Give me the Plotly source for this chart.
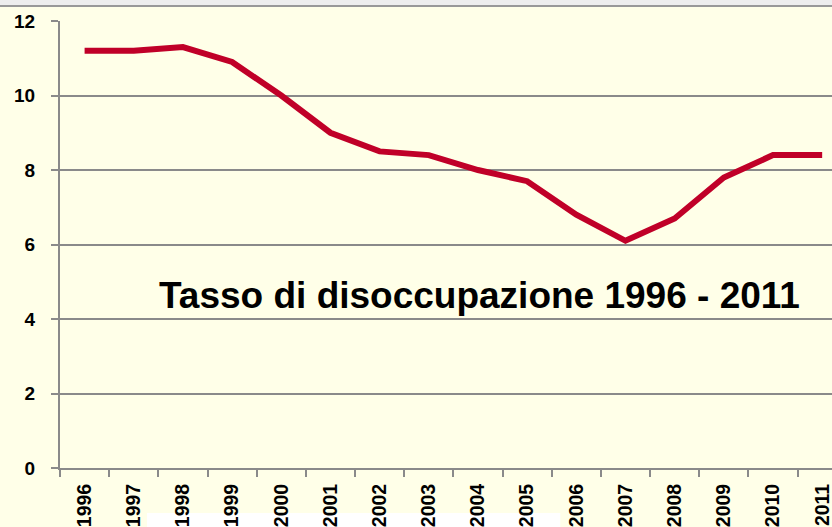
import plotly.graph_objects as go

years = ["1996", "1997", "1998", "1999", "2000", "2001", "2002", "2003",
         "2004", "2005", "2006", "2007", "2008", "2009", "2010", "2011"]
tasso = [11.2, 11.2, 11.3, 10.9, 10.0, 9.0, 8.5, 8.4,
         8.0, 7.7, 6.8, 6.1, 6.7, 7.8, 8.4, 8.4]
title_text = "Tasso di disoccupazione 1996 - 2011"

BG = "#FFFFE8"
GRID = "#8A8A8A"
FONT = "Liberation Sans, Arial, sans-serif"

fig = go.Figure()
fig.add_trace(go.Scatter(
    x=years, y=tasso, mode="lines",
    line=dict(color="#C00028", width=6),
    hoverinfo="x+y",
))

fig.update_layout(
    width=832, height=527,
    margin=dict(l=60, r=0, t=21, b=59, autoexpand=False),
    paper_bgcolor=BG, plot_bgcolor=BG,
    showlegend=False,
    xaxis=dict(
        type="category",
        range=[-0.5, 15.2],
        tickson="boundaries",
        ticks="outside", ticklen=7, tickcolor=GRID, tickwidth=1.5,
        showline=True, linecolor=GRID, linewidth=2,
        showgrid=False, zeroline=False,
        tickangle=-90,
        automargin=False,
        tickfont=dict(family=FONT, size=19.5, color="black", weight="bold"),
        ticklabelstandoff=6,
    ),
    yaxis=dict(
        range=[0, 12],
        tickvals=[0, 2, 4, 6, 8, 10, 12],
        ticks="outside", ticklen=7, tickcolor=GRID, tickwidth=1.5,
        showline=True, linecolor=GRID, linewidth=2,
        showgrid=True, gridcolor=GRID, gridwidth=1.5,
        zeroline=False,
        automargin=False,
        tickfont=dict(family=FONT, size=19, color="black", weight="bold"),
        ticklabelstandoff=12,
    ),
    annotations=[dict(
        text=title_text, xref="paper", yref="paper",
        x=0.544, y=0.385, xanchor="center", yanchor="middle",
        showarrow=False,
        font=dict(family=FONT, size=37, color="black", weight="bold"),
    )],
    shapes=[
        dict(type="rect", xref="paper", yref="paper",
             x0=-0.1, x1=1.1, y0=1.035, y1=1.06,
             fillcolor="#EEEEEE", line=dict(width=0), layer="below"),
        dict(type="line", xref="paper", yref="paper",
             x0=-0.1, x1=1.1, y0=1.0336, y1=1.0336,
             line=dict(color="#999999", width=2)),
        dict(type="rect", xref="paper", yref="paper",
             x0=0.1127, x1=0.648, y0=-0.1007, y1=-0.2,
             fillcolor="white", line=dict(width=0), layer="below"),
    ],
)

fig.write_html(
    "out.html",
    config={"displayModeBar": False},
    post_script="document.body.style.margin='0';document.body.style.overflow='hidden';",
)
